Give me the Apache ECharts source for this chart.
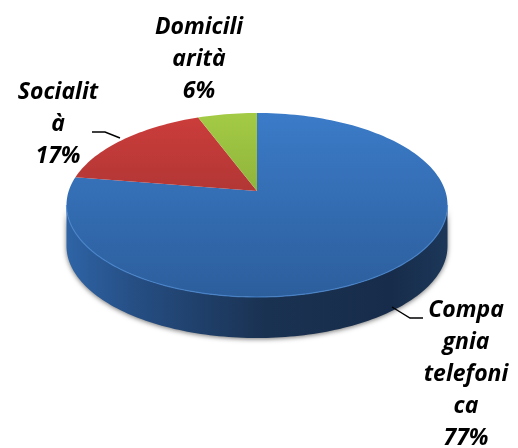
<!DOCTYPE html>
<html>
<head>
<meta charset="utf-8">
<style>
  html, body { margin: 0; padding: 0; background: #fff; }
  #chart { width: 518px; height: 448px; }
</style>
<script src="https://cdn.jsdelivr.net/npm/echarts@6/dist/echarts.min.js"></script>
</head>
<body>
<div id="chart"></div>
<script>
// valori
const categories = ['Compagnia telefonica', 'Socialità', 'Domiciliarità'];
const shares = [77, 17, 6];
const labelTexts = ['Compa\ngnia\ntelefoni\nca', 'Socialit\nà', 'Domicili\narità'];

// geometria del disco in prospettiva
const cx = 257, cy = 205, rx = 190.5, ry = 92;
const apexX = 257, apexY = 191, depth = 41;
const squeeze = 0.83; // avvicina gli angoli dietro, allarga quelli davanti

const labelPos = [[466, 374], [58, 124], [199, 59]];
const leaders = [
    [[392, 307], [410, 318], [423, 318]],
    [[92, 132], [105, 132], [120, 138]],
    null
];

const topColors = [
    ['#3b7bc8', '#2c5e9c'],
    ['#cc3d3b', '#8f2e2d'],
    ['#a4cb45', '#73942f']
];

const total = shares.reduce((a, b) => a + b, 0);

function toEllipseAngle(theta) {
    if (theta > Math.PI) return 2 * Math.PI - toEllipseAngle(2 * Math.PI - theta);
    return 2 * Math.atan(squeeze * Math.tan(theta / 2));
}

function rimPoint(phi, dy) {
    return [cx + rx * Math.sin(phi), cy - ry * Math.cos(phi) + (dy || 0)];
}

function arc(from, to, dy) {
    const pts = [];
    const steps = Math.max(2, Math.ceil(Math.abs(to - from) * 40));
    for (let i = 0; i <= steps; i++) {
        pts.push(rimPoint(from + (to - from) * i / steps, dy));
    }
    return pts;
}

function vertical(colors) {
    return {
        type: 'linear', global: true,
        x: 0, y: cy - ry, x2: 0, y2: cy + ry,
        colorStops: [{ offset: 0, color: colors[0] }, { offset: 1, color: colors[1] }]
    };
}

const wallFill = {
    type: 'linear', global: true,
    x: cx - rx, y: 0, x2: cx + rx, y2: 0,
    colorStops: [
        { offset: 0, color: '#2e64a6' },
        { offset: 0.17, color: '#264f85' },
        { offset: 0.36, color: '#1f3f69' },
        { offset: 0.52, color: '#1a3252' },
        { offset: 0.85, color: '#172c4a' },
        { offset: 1, color: '#1c3759' }
    ]
};

function renderSlice(params, api) {
    const i = params.dataIndex;
    const before = shares.slice(0, i).reduce((a, b) => a + b, 0);
    const start = toEllipseAngle(2 * Math.PI * before / total);
    const end = toEllipseAngle(2 * Math.PI * (before + api.value(0)) / total);
    const children = [];

    // parete laterale, solo la parte davanti
    const wallFrom = Math.max(start, Math.PI / 2);
    const wallTo = Math.min(end, 3 * Math.PI / 2);
    if (wallTo > wallFrom) {
        children.push({
            type: 'polygon',
            shape: { points: arc(wallFrom, wallTo, 0).concat(arc(wallTo, wallFrom, depth)) },
            style: { fill: wallFill, shadowBlur: 5, shadowColor: 'rgba(0,0,0,0.55)', shadowOffsetY: 1 }
        });
    }

    children.push({
        type: 'polygon',
        shape: { points: [[apexX, apexY]].concat(arc(start, end, 0)) },
        style: { fill: vertical(topColors[i]) }
    });

    // riflesso sul bordo davanti
    if (wallTo > wallFrom) {
        children.push({
            type: 'polyline',
            shape: { points: arc(wallFrom, wallTo, 0) },
            style: { fill: 'none', stroke: '#4a87cf', lineWidth: 1.2, opacity: 0.8 }
        });
    }

    if (leaders[i]) {
        children.push({
            type: 'polyline',
            shape: { points: leaders[i] },
            style: { fill: 'none', stroke: '#000', lineWidth: 1.4 }
        });
    }

    children.push({
        type: 'text',
        style: {
            text: labelTexts[i] + '\n' + api.value(0) + '%',
            x: labelPos[i][0],
            y: labelPos[i][1],
            align: 'center',
            verticalAlign: 'middle',
            fontFamily: 'Open Sans',
            fontStyle: 'italic',
            fontWeight: 'bold',
            fontSize: 23,
            lineHeight: 32,
            fill: '#000'
        }
    });

    return { type: 'group', children: children };
}

const chart = echarts.init(document.getElementById('chart'));
chart.setOption({
    animation: false,
    series: [{
        type: 'custom',
        coordinateSystem: 'none',
        renderItem: renderSlice,
        data: shares.map((v, i) => ({ name: categories[i], value: [v] }))
    }]
});
</script>
</body>
</html>
